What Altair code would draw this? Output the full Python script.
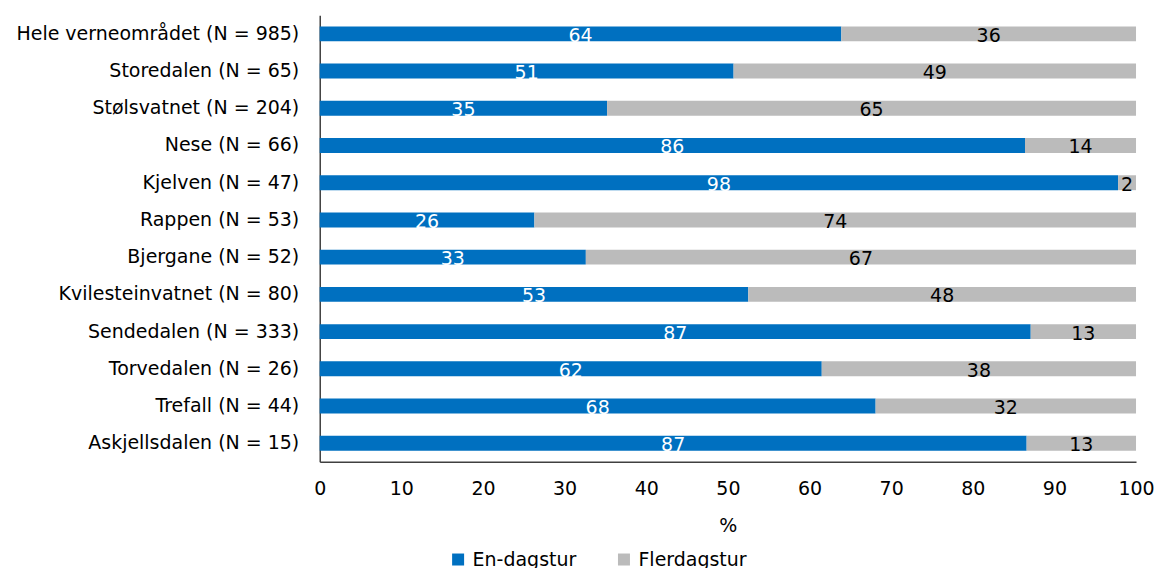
import altair as alt
import pandas as pd

categories = [
    "Hele verneområdet (N = 985)",
    "Storedalen (N = 65)",
    "Stølsvatnet (N = 204)",
    "Nese (N = 66)",
    "Kjelven (N = 47)",
    "Rappen (N = 53)",
    "Bjergane (N = 52)",
    "Kvilesteinvatnet (N = 80)",
    "Sendedalen (N = 333)",
    "Torvedalen (N = 26)",
    "Trefall  (N = 44)",
    "Askjellsdalen (N = 15)",
]
en_dagstur = [63.9, 50.7, 35.2, 86.4, 97.8, 26.3, 32.6, 52.5, 87.1, 61.5, 68.1, 86.6]
flerdagstur = [36.1, 49.3, 64.8, 13.6, 2.2, 73.7, 67.4, 47.5, 12.9, 38.5, 31.9, 13.4]
en_labels = ["64", "51", "35", "86", "98", "26", "33", "53", "87", "62", "68", "87"]
fler_labels = ["36", "49", "65", "14", "2", "74", "67", "48", "13", "38", "32", "13"]
series = ["En-dagstur", "Flerdagstur"]
colors = ["#0070C0", "#BBBBBB"]
label_colors = ["white", "black"]

rows = []
for i, c in enumerate(categories):
    rows.append({"cat": c, "type": series[0], "value": en_dagstur[i], "label": en_labels[i], "ord": 0})
    rows.append({"cat": c, "type": series[1], "value": flerdagstur[i], "label": fler_labels[i], "ord": 1})
df = pd.DataFrame(rows)

FONT = "DejaVu Sans"
FS = 19

base = alt.Chart(df).transform_stack(
    stack="value", groupby=["cat"], as_=["x0", "x1"], sort=[alt.SortField("ord", order="ascending")]
).transform_calculate(mid="(datum.x0 + datum.x1) / 2")

y_enc = alt.Y(
    "cat:N",
    sort=categories,
    title=None,
    scale=alt.Scale(paddingInner=0.6, paddingOuter=0.3),
    axis=alt.Axis(
        ticks=False, labelPadding=21, labelFontSize=FS, labelFont=FONT, labelColor="black",
        domainColor="#404040", domainWidth=1.5, labelLimit=400, minExtent=312, maxExtent=312,
    ),
)

bars = base.mark_bar().encode(
    x=alt.X(
        "x0:Q",
        title="%",
        scale=alt.Scale(domain=[0, 100], nice=False),
        axis=alt.Axis(
            values=list(range(0, 101, 10)), ticks=False, grid=False, labelPadding=18,
            labelFlush=False,
            labelFontSize=FS, labelFont=FONT, labelColor="black", titleFontSize=FS,
            titleFont=FONT, titleFontWeight="normal", titleColor="black", titlePadding=18,
            domainColor="#404040", domainWidth=1.5,
        ),
    ),
    x2="x1:Q",
    y=y_enc,
    color=alt.Color(
        "type:N",
        scale=alt.Scale(domain=series, range=colors),
        legend=alt.Legend(
            title=None, orient="none", legendX=129, legendY=535, direction="horizontal",
            symbolType="square", symbolSize=144, labelFontSize=FS, labelFont=FONT,
            labelColor="black", columnPadding=38, symbolStrokeWidth=0, labelOffset=5,
        ),
    ),
)

text = base.mark_text(fontSize=FS, font=FONT, baseline="middle", dy=2).encode(
    x="mid:Q",
    y=alt.Y("cat:N", sort=categories),
    text="label:N",
    color=alt.Color("type:N", scale=alt.Scale(domain=series, range=label_colors), legend=None),
)

chart = (
    alt.layer(bars, text)
    .resolve_scale(color="independent")
    .properties(width=817, height=447, padding={"top": 7, "left": 0, "right": 0, "bottom": 0})
    .configure_view(stroke=None)
)

chart.save("out.html", embed_options={"renderer": "svg", "actions": False})
